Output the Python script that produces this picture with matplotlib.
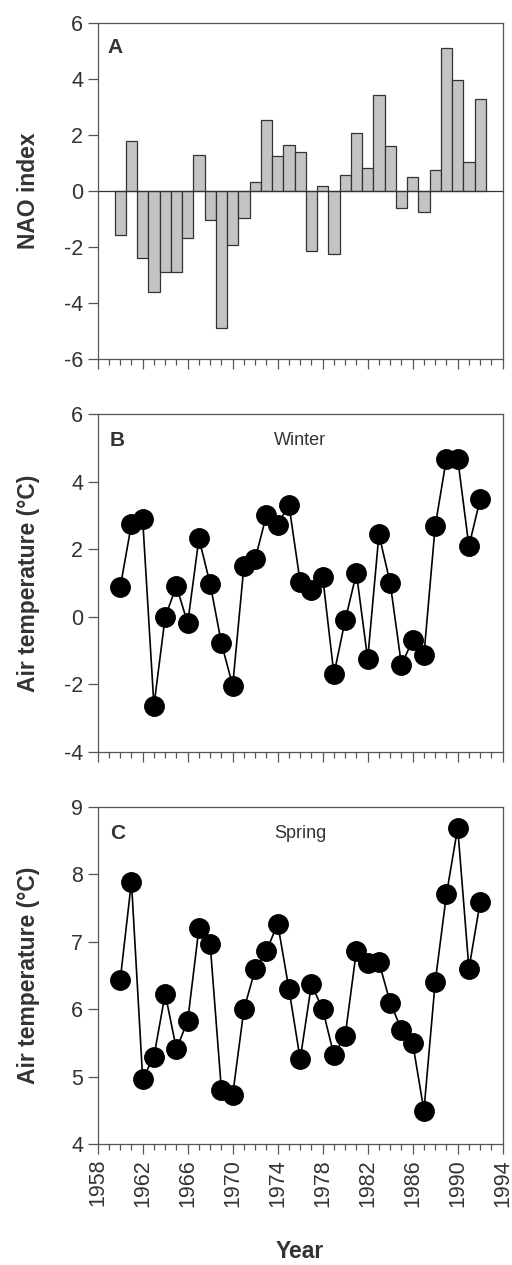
import numpy as np
import matplotlib
matplotlib.use("Agg")
import matplotlib.pyplot as plt
from matplotlib.ticker import MultipleLocator

plt.rcParams['font.family'] = ['Liberation Sans', 'DejaVu Sans']
plt.rcParams['axes.unicode_minus'] = False

years = list(range(1960, 1993))

nao = [-1.57, 1.79, -2.38, -3.62, -2.89, -2.9, -1.69, 1.29, -1.05, -4.9,
       -1.92, -0.98, 0.33, 2.52, 1.24, 1.63, 1.38, -2.14, 0.18, -2.26,
       0.57, 2.05, 0.8, 3.42, 1.61, -0.63, 0.49, -0.76, 0.73, 5.08,
       3.96, 1.02, 3.29]

winter = [0.87, 2.74, 2.88, -2.63, 0.0, 0.91, -0.19, 2.32, 0.97, -0.78,
          -2.04, 1.51, 1.71, 3.01, 2.73, 3.31, 1.03, 0.78, 1.18, -1.7,
          -0.1, 1.29, -1.25, 2.44, 1.0, -1.42, -0.69, -1.14, 2.68, 4.68,
          4.68, 2.09, 3.48]

spring = [6.43, 7.89, 4.97, 5.3, 6.23, 5.41, 5.83, 7.2, 6.96, 4.8,
          4.73, 6.0, 6.59, 6.86, 7.27, 6.3, 5.26, 6.37, 6.0, 5.32,
          5.61, 6.87, 6.68, 6.7, 6.1, 5.7, 5.5, 4.5, 6.4, 7.7,
          8.69, 6.6, 7.59]

spine_col = '#555555'
txt_col = '#333333'

fig = plt.figure(figsize=(5.12, 12.65), dpi=100)

left, width = 0.1908, 0.791
axA = fig.add_axes([left, 0.7162, width, 0.2659])
axB = fig.add_axes([left, 0.4055, width, 0.2672])
axC = fig.add_axes([left, 0.0954, width, 0.2669])

# panel A - bars
axA.bar(years, nao, width=1.0, color='#c4c4c4', edgecolor='#333333', linewidth=0.9)
axA.axhline(0, color='#333333', lw=0.9)
axA.set_ylim(-6, 6)
axA.set_yticks(np.arange(-6, 7, 2))
axA.set_ylabel('NAO index', fontsize=16.5, fontweight='bold', color=txt_col)
axA.text(0.025, 0.925, 'A', transform=axA.transAxes, fontsize=15,
         fontweight='bold', color=txt_col, va='center', ha='left')

# panel B - winter
axB.plot(years, winter, '-o', color='black', lw=1.2, markersize=14)
axB.set_ylim(-4, 6)
axB.set_yticks(np.arange(-4, 7, 2))
axB.set_ylabel('Air temperature (°C)', fontsize=16.5, fontweight='bold', color=txt_col)
axB.text(0.03, 0.923, 'B', transform=axB.transAxes, fontsize=15,
         fontweight='bold', color=txt_col, va='center', ha='left')
axB.text(0.5, 0.923, 'Winter', transform=axB.transAxes, fontsize=13,
         color=txt_col, va='center', ha='center')

# panel C - spring
axC.plot(years, spring, '-o', color='black', lw=1.2, markersize=14)
axC.set_ylim(4, 9)
axC.set_yticks(np.arange(4, 10, 1))
axC.set_ylabel('Air temperature (°C)', fontsize=16.5, fontweight='bold', color=txt_col)
axC.text(0.03, 0.922, 'C', transform=axC.transAxes, fontsize=15,
         fontweight='bold', color=txt_col, va='center', ha='left')
axC.text(0.5, 0.922, 'Spring', transform=axC.transAxes, fontsize=13,
         color=txt_col, va='center', ha='center')

for ax in (axA, axB, axC):
    ax.set_xlim(1958, 1994)
    ax.set_xticks(np.arange(1958, 1995, 4))
    ax.xaxis.set_minor_locator(MultipleLocator(1))
    ax.tick_params(axis='both', which='major', direction='out', length=7,
                   width=0.9, color=spine_col, labelsize=15.5, labelcolor=txt_col)
    ax.tick_params(axis='x', which='minor', direction='out', length=4,
                   width=0.9, color=spine_col)
    for s in ax.spines.values():
        s.set_color(spine_col)
        s.set_linewidth(0.9)
    if ax is not axC:
        ax.tick_params(axis='x', labelbottom=False)
    # same label column for all three panels
    ax.yaxis.set_label_coords(-0.172, 0.5)
    ax.yaxis.label.set_va('center')

axC.tick_params(axis='x', labelrotation=90)

fig.text(left + width / 2, 0.011, 'Year', fontsize=16.5, fontweight='bold',
         color=txt_col, ha='center', va='center')

fig.savefig('out.png', dpi=100)
